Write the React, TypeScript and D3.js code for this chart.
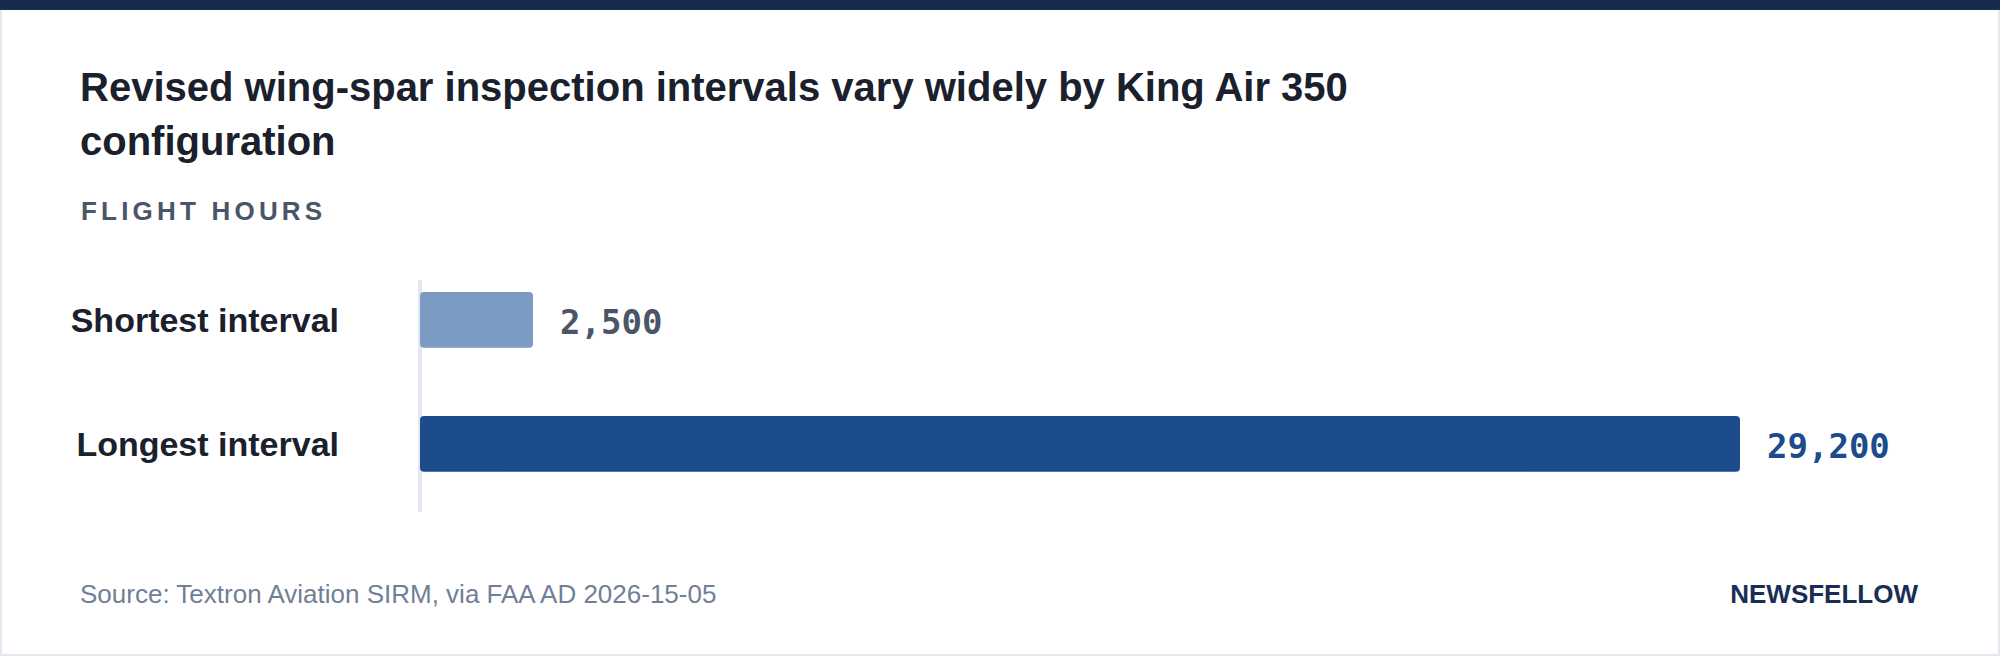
import React from "react";
import * as d3 from "d3";

const categories: string[] = ["Shortest interval", "Longest interval"];
const values: number[] = [2500, 29200];
const barColors: string[] = ["#7b9ac4", "#1c4c8c"];
const valueColors: string[] = ["#4a5568", "#1c4c8c"];
const titleLines: string[] = [
  "Revised wing-spar inspection intervals vary widely by King Air 350",
  "configuration",
];
const unitLabel = "FLIGHT HOURS";
const sourceText = "Source: Textron Aviation SIRM, via FAA AD 2026-15-05";
const brand = "NEWSFELLOW";

const W = 2000;
const H = 656;
const SANS = "'Liberation Sans', Arial, Helvetica, sans-serif";
const MONO = "'DejaVu Sans Mono', monospace";

export default function App() {
  const x = d3
    .scaleLinear()
    .domain([0, d3.max(values) as number])
    .range([420, 1740]);
  const y = d3
    .scaleBand<string>()
    .domain(categories)
    .range([279.6, 484.2])
    .paddingInner(0.55)
    .paddingOuter(0.1);
  const fmt = d3.format(",");

  return (
    <>
      <style>{`body{margin:0;}`}</style>
      <svg width={W} height={H} style={{ display: "block" }}>
        <rect x={0} y={0} width={W} height={H} fill="#ffffff" />
        <rect x={1} y={1} width={W - 2} height={H - 2} fill="none" stroke="#e2e8f0" strokeWidth={2} />
        <rect x={0} y={0} width={W} height={10} fill="#172b4f" />

        {titleLines.map((t, i) => (
          <text
            key={i}
            x={80}
            y={101 + i * 54}
            fontFamily={SANS}
            fontWeight={700}
            fontSize={40}
            fill="#1a202c"
          >
            {t}
          </text>
        ))}

        <text
          x={81}
          y={220}
          fontFamily={SANS}
          fontWeight={700}
          fontSize={26}
          letterSpacing={4.2}
          fill="#4a5568"
        >
          {unitLabel}
        </text>

        <line x1={420} x2={420} y1={280} y2={512} stroke="#e2e8f0" strokeWidth={4} />

        {categories.map((c, i) => {
          const yy = y(c) as number;
          const bw = y.bandwidth();
          const cy = yy + bw / 2;
          return (
            <g key={c}>
              <text
                x={339}
                y={cy}
                textAnchor="end"
                dominantBaseline="central"
                fontFamily={SANS}
                fontWeight={700}
                fontSize={34}
                fill="#1a202c"
              >
                {c}
              </text>
              <rect
                x={x(0)}
                y={yy}
                width={x(values[i]) - x(0)}
                height={bw}
                rx={4}
                ry={4}
                fill={barColors[i]}
              />
              <text
                x={x(values[i]) + 27}
                y={cy + 2}
                dominantBaseline="central"
                fontFamily={MONO}
                fontWeight={700}
                fontSize={34}
                fill={valueColors[i]}
              >
                {fmt(values[i])}
              </text>
            </g>
          );
        })}

        <text x={80} y={603} fontFamily={SANS} fontSize={26} fill="#718096">
          {sourceText}
        </text>
        <text
          x={1918}
          y={603}
          textAnchor="end"
          fontFamily={SANS}
          fontWeight={700}
          fontSize={26}
          fill="#1a2e55"
        >
          {brand}
        </text>
      </svg>
    </>
  );
}
